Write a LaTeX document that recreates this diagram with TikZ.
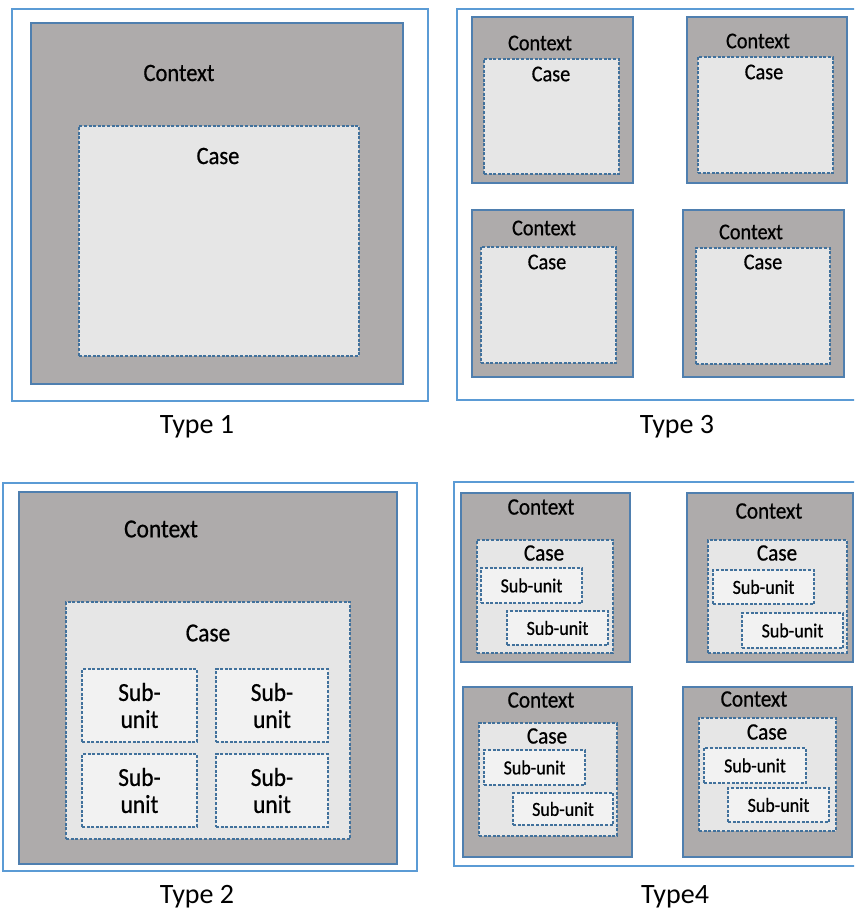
\documentclass[tikz,border=0pt]{standalone}
\usepackage{fontspec}
\setmainfont{Carlito}
\newfontfamily\condf[FakeStretch=0.9,FakeBold=0.6]{Carlito}
\definecolor{frameblue}{HTML}{5B9BD5}
\definecolor{ctxgray}{HTML}{AEABAB}
\definecolor{ctxline}{HTML}{4F7FAF}
\definecolor{casefill}{HTML}{E6E6E6}
\definecolor{caseline}{HTML}{41719C}
\definecolor{subfill}{HTML}{F2F2F2}
\tikzset{
  frame/.style={draw=frameblue, line width=1.8pt, fill=white, rectangle, inner sep=0pt},
  ctxbox/.style={draw=ctxline, line width=1.4pt, fill=ctxgray, rectangle, inner sep=0pt},
  casebox/.style={draw=caseline, line width=1.1pt, dash pattern=on 3pt off 1.6pt, fill=casefill, rectangle, inner sep=0pt},
  subbox/.style={draw=caseline, line width=1.1pt, dash pattern=on 3pt off 1.6pt, fill=subfill, rectangle, inner sep=0pt},
  lbl/.style={inner sep=0pt, text=black, font=\condf\fontsize{#1}{#1}\selectfont},
  typelbl/.style={inner sep=0pt, text=black, font=\fontsize{28}{28}\selectfont},
  twolbl/.style={inner sep=0pt, text=black, align=center, font=\condf\fontsize{26}{27}\selectfont}
}
\begin{document}
\begin{tikzpicture}[x=1pt,y=-1pt]
\useasboundingbox (0,0) rectangle (854,909);
\clip (0,0) rectangle (854,909);
% ---------- Type 1 ----------
\node[frame, minimum width=416, minimum height=392] (f1) at (220,205) {};
\node[ctxbox, minimum width=372, minimum height=361] (c1) at (217,203.5) {};
\node[casebox, minimum width=280, minimum height=230] (k1) at (219,241) {};
\node[lbl=25] (c1t) at (179,73) {Context};
\node[lbl=25] (k1t) at (218,156) {Case};
\node[typelbl] (t1) at (197,427) {Type 1};
% ---------- Type 3 ----------
\node[frame, minimum width=443, minimum height=391] (f3) at (678.5,204.5) {};
\node[ctxbox, minimum width=161, minimum height=166] (c3a) at (552.5,100) {};
\node[casebox, minimum width=135, minimum height=115] (k3a) at (551.5,116.5) {};
\node[lbl=22.5] (c3at) at (540,43) {Context};
\node[lbl=22.5] (k3at) at (551,74) {Case};
\node[ctxbox, minimum width=160, minimum height=166] (c3b) at (767,100) {};
\node[casebox, minimum width=135, minimum height=116] (k3b) at (765.5,115) {};
\node[lbl=22.5] (c3bt) at (758,41) {Context};
\node[lbl=22.5] (k3bt) at (764,72) {Case};
\node[ctxbox, minimum width=161, minimum height=167] (c3c) at (552.5,293.5) {};
\node[casebox, minimum width=135, minimum height=116] (k3c) at (548.5,305) {};
\node[lbl=22.5] (c3ct) at (544,228) {Context};
\node[lbl=22.5] (k3ct) at (547,262) {Case};
\node[ctxbox, minimum width=161, minimum height=167] (c3d) at (763.5,293.5) {};
\node[casebox, minimum width=134, minimum height=116] (k3d) at (763,306) {};
\node[lbl=22.5] (c3dt) at (751,232) {Context};
\node[lbl=22.5] (k3dt) at (763,262) {Case};
\node[typelbl] (t3) at (677,427) {Type 3};
% ---------- Type 2 ----------
\node[frame, minimum width=414, minimum height=388] (f2) at (210,677) {};
\node[ctxbox, minimum width=378, minimum height=372] (c2) at (208,678) {};
\node[casebox, minimum width=284, minimum height=237] (k2) at (208,720.5) {};
\node[lbl=26] (c2t) at (161,529) {Context};
\node[lbl=26] (k2t) at (208,633) {Case};
\node[subbox, minimum width=115, minimum height=73] (s2a) at (139.5,705.5) {};
\node[subbox, minimum width=112, minimum height=73] (s2b) at (272,705.5) {};
\node[subbox, minimum width=115, minimum height=73] (s2c) at (139.5,790.5) {};
\node[subbox, minimum width=112, minimum height=73] (s2d) at (272,790.5) {};
\node[twolbl] (s2at) at (s2a.center) {Sub-\\unit};
\node[twolbl] (s2bt) at (s2b.center) {Sub-\\unit};
\node[twolbl] (s2ct) at (s2c.center) {Sub-\\unit};
\node[twolbl] (s2dt) at (s2d.center) {Sub-\\unit};
\node[typelbl] (t2) at (197,897) {Type 2};
% ---------- Type 4 ----------
\node[frame, minimum width=446, minimum height=384] (f4) at (677,674) {};
% top-left
\node[ctxbox, minimum width=169, minimum height=169] (c4a) at (545.5,577.5) {};
\node[casebox, minimum width=136, minimum height=113] (k4a) at (545,596.5) {};
\node[subbox, minimum width=101, minimum height=35] (s4a1) at (531.5,585.5) {};
\node[subbox, minimum width=101, minimum height=34] (s4a2) at (557.5,628) {};
\node[lbl=23.5] (c4at) at (541,507) {Context};
\node[lbl=23.5] (k4at) at (544,553) {Case};
\node[lbl=20] (s4a1t) at (s4a1.center) {Sub-unit};
\node[lbl=20] (s4a2t) at (s4a2.center) {Sub-unit};
% top-right
\node[ctxbox, minimum width=166, minimum height=169] (c4b) at (770,577.5) {};
\node[casebox, minimum width=139, minimum height=113] (k4b) at (777.5,596.5) {};
\node[subbox, minimum width=101, minimum height=34] (s4b1) at (763.5,587) {};
\node[subbox, minimum width=101, minimum height=35] (s4b2) at (792.5,630.5) {};
\node[lbl=23.5] (c4bt) at (769,511) {Context};
\node[lbl=23.5] (k4bt) at (777,553) {Case};
\node[lbl=20] (s4b1t) at (s4b1.center) {Sub-unit};
\node[lbl=20] (s4b2t) at (s4b2.center) {Sub-unit};
% bottom-left
\node[ctxbox, minimum width=169, minimum height=170] (c4c) at (547.5,772) {};
\node[casebox, minimum width=138, minimum height=113] (k4c) at (548,779.5) {};
\node[subbox, minimum width=101, minimum height=35] (s4c1) at (534.5,767.5) {};
\node[subbox, minimum width=100, minimum height=32] (s4c2) at (563,809) {};
\node[lbl=23.5] (c4ct) at (541,700) {Context};
\node[lbl=23.5] (k4ct) at (547,736) {Case};
\node[lbl=20] (s4c1t) at (s4c1.center) {Sub-unit};
\node[lbl=20] (s4c2t) at (s4c2.center) {Sub-unit};
% bottom-right
\node[ctxbox, minimum width=169, minimum height=170] (c4d) at (767.5,772) {};
\node[casebox, minimum width=137, minimum height=113] (k4d) at (767.5,774.5) {};
\node[subbox, minimum width=102, minimum height=35] (s4d1) at (755,765.5) {};
\node[subbox, minimum width=101, minimum height=34] (s4d2) at (778.5,805) {};
\node[lbl=23.5] (c4dt) at (754,699) {Context};
\node[lbl=23.5] (k4dt) at (767,732) {Case};
\node[lbl=20] (s4d1t) at (s4d1.center) {Sub-unit};
\node[lbl=20] (s4d2t) at (s4d2.center) {Sub-unit};
\node[typelbl] (t4) at (675,897) {Type4};
\end{tikzpicture}
\end{document}
